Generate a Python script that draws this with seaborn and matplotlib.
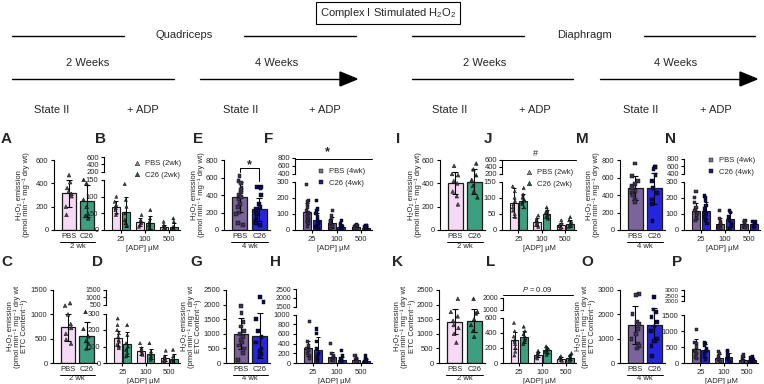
import numpy as np
import pandas as pd
import matplotlib
matplotlib.use("Agg")
import matplotlib.pyplot as plt
import seaborn as sns
from matplotlib.lines import Line2D
from matplotlib.patches import Polygon

sns.set_theme(style="ticks")
plt.rcParams['font.family'] = ['Liberation Sans', 'DejaVu Sans']
plt.rcParams['mathtext.fontset'] = 'custom'
plt.rcParams['mathtext.rm'] = 'Liberation Sans'
plt.rcParams['mathtext.it'] = 'Liberation Sans:italic'
plt.rcParams['mathtext.bf'] = 'Liberation Sans:bold'
np.random.seed(3)

W, H = 764, 384
GROUPS = ["PBS", "C26"]
ADP = ["25", "100", "500"]

# ---------------- data ----------------
A_means = [315, 250]; A_sd = [115, 140]
A_pbs = [470, 410, 360, 330, 310, 290, 200, 130]
A_c26 = [430, 400, 260, 200, 140, 120, 100]

B_pbs_mean = [70, 25, 10]; B_pbs_sd = [18, 12, 6]
B_c26_mean = [55, 22, 10]; B_c26_sd = [45, 20, 12]
B_pbs_pts = [[100, 85, 75, 70, 65, 60, 50, 45], [45, 30, 25, 20, 15, 10], [25, 15, 10, 8, 5, 3]]
B_c26_pts = [[138, 90, 70, 50, 30, 20, 15], [60, 35, 25, 15, 10, 5], [35, 25, 10, 5, 3, 2]]

C_means = [730, 560]; C_sd = [270, 280]
C_pbs = [1230, 1180, 1000, 800, 720, 600, 480, 400]
C_c26 = [1050, 700, 550, 450, 400, 300]

D_pbs_mean = [150, 75, 30]; D_pbs_sd = [45, 25, 20]
D_c26_mean = [115, 55, 22]; D_c26_sd = [75, 30, 30]
D_pbs_pts = [[270, 230, 200, 180, 160, 140, 130, 110, 100, 90], [120, 90, 80, 70, 60, 50], [75, 40, 30, 20, 15, 10]]
D_c26_pts = [[230, 170, 120, 100, 80, 60, 40], [120, 70, 55, 40, 30, 20], [80, 40, 20, 10, 5]]

E_means = [375, 235]; E_sd = [170, 130]
E_pbs = [620, 560, 540, 480, 460, 430, 400, 380, 350, 300, 260, 200, 180, 80, 60]
E_c26 = [490, 490, 480, 400, 300, 260, 240, 200, 180, 150, 100, 80, 60]

F_pbs_mean = [110, 45, 20]; F_pbs_sd = [55, 35, 10]
F_c26_mean = [60, 20, 15]; F_c26_sd = [45, 15, 8]
F_pbs_pts = [[280, 180, 175, 160, 140, 120, 110, 100, 90, 80, 70, 60, 50, 40, 20],
             [120, 90, 70, 60, 50, 40, 30, 20, 10], [35, 30, 25, 20, 15, 10, 5]]
F_c26_pts = [[180, 130, 120, 100, 80, 60, 50, 40, 30, 20, 15, 10],
             [60, 40, 30, 20, 15, 10, 5], [30, 25, 20, 15, 10, 5]]

G_means = [1000, 940]; G_sd = [530, 780]
G_pbs = [1950, 1700, 1400, 1250, 1100, 1000, 900, 800, 700, 600, 500, 350, 100]
G_c26 = [2250, 2100, 1500, 1100, 900, 700, 500, 400, 300, 250]

H_pbs_mean = [300, 130, 60]; H_pbs_sd = [150, 90, 40]
H_c26_mean = [270, 70, 50]; H_c26_sd = [260, 60, 40]
H_pbs_pts = [[850, 450, 350, 300, 250, 200, 150, 100], [400, 200, 150, 120, 100, 80, 50], [150, 100, 70, 50, 30, 20]]
H_c26_pts = [[700, 600, 450, 300, 200, 150, 100, 50], [250, 150, 100, 60, 40, 20], [150, 100, 60, 40, 20]]

I_means = [400, 415]; I_sd = [95, 105]
I_pbs = [550, 480, 470, 420, 400, 330, 290, 220]
I_c26 = [570, 520, 470, 430, 380, 330, 280]

J_pbs_mean = [85, 25, 15]; J_pbs_sd = [45, 12, 8]
J_c26_mean = [90, 50, 20]; J_c26_sd = [22, 12, 10]
J_pbs_pts = [[135, 120, 100, 90, 80, 70, 60, 50, 40], [45, 35, 30, 25, 20, 15, 10], [30, 20, 15, 12, 8, 5]]
J_c26_pts = [[130, 110, 100, 95, 90, 85, 80, 70], [70, 60, 55, 50, 45, 40, 35], [40, 30, 25, 20, 15, 10]]

K_means = [1420, 1450]; K_sd = [420, 400]
K_pbs = [2200, 1750, 1600, 1450, 1300, 1200, 1000, 700]
K_c26 = [2200, 1750, 1700, 1500, 1300, 1100, 900]

L_pbs_mean = [300, 110, 55]; L_pbs_sd = [110, 30, 25]
L_c26_mean = [340, 165, 70]; L_c26_sd = [80, 35, 35]
L_pbs_pts = [[530, 420, 350, 300, 280, 250, 200, 150, 100], [160, 140, 120, 110, 100, 80, 60], [90, 70, 60, 50, 40, 30]]
L_c26_pts = [[480, 420, 380, 350, 330, 300, 280, 250], [220, 200, 180, 170, 150, 130, 110], [130, 100, 80, 60, 50, 30]]

M_means = [480, 475]; M_sd = [140, 180]
M_pbs = [760, 620, 560, 530, 500, 480, 450, 420, 400, 350, 320]
M_c26 = [720, 720, 700, 630, 560, 480, 420, 350, 300, 100]

N_pbs_mean = [120, 40, 35]; N_pbs_sd = [50, 35, 20]
N_c26_mean = [120, 65, 35]; N_c26_sd = [55, 45, 15]
N_pbs_pts = [[240, 200, 170, 140, 120, 110, 100, 90, 70, 60], [120, 70, 50, 40, 30, 20, 10, 5], [60, 50, 40, 30, 20, 15]]
N_c26_pts = [[210, 200, 180, 150, 130, 110, 100, 80, 60, 40], [120, 110, 80, 60, 40, 20, 10], [55, 50, 40, 30, 25, 15]]

O_means = [1550, 1560]; O_sd = [780, 700]
O_pbs = [2850, 2800, 2000, 1700, 1600, 1400, 1200, 1000, 800, 700, 600]
O_c26 = [2700, 2200, 2100, 1900, 1700, 1500, 1300, 1000, 900, 700, 300]

P_pbs_mean = [450, 170, 100]; P_pbs_sd = [300, 120, 80]
P_c26_mean = [400, 180, 100]; P_c26_sd = [200, 130, 60]
P_pbs_pts = [[1050, 650, 600, 500, 400, 350, 300, 200, 150], [350, 300, 200, 150, 100, 50], [250, 200, 100, 80, 50, 30]]
P_c26_pts = [[650, 600, 550, 450, 400, 350, 300, 200, 100], [400, 350, 250, 150, 100, 50], [200, 170, 120, 80, 50, 30]]

# ---------------- style ----------------
COL2 = {"PBS": "#F5D9F5", "C26": "#3E9E80"}
COL4 = {"PBS": "#7B6499", "C26": "#2626E0"}
PT2 = {"PBS": "#4a4a4a", "C26": "#1f3b33"}
PT4 = {"PBS": "#3e3552", "C26": "#0c0c55"}
LEG2 = {"PBS": "#8a8a8a", "C26": "#2f5a4c"}
LEG4 = {"PBS": "#77728a", "C26": "#1c1c88"}
EDGE = "#1a1a1a"
FS = 5.5

YL1 = "H\u2082O\u2082 emission\n(pmol min\u207b\u00b9 mg\u207b\u00b9 dry wt)"
YL2 = "H\u2082O\u2082 emission\n(pmol min\u207b\u00b9 mg\u207b\u00b9 dry wt\nETC Content\u207b\u00b9)"

fig = plt.figure(figsize=(W / 100, H / 100), dpi=100)


def fx(x):
    return x / W


def fy(y):
    return 1 - y / H


def px_axes(x0, x1, ytop, ybot):
    ax = fig.add_axes([fx(x0), fy(ybot), (x1 - x0) / W, (ybot - ytop) / H])
    ax.set_facecolor("none")
    for s in ["top", "right"]:
        ax.spines[s].set_visible(False)
    for s in ["left", "bottom"]:
        ax.spines[s].set_linewidth(0.8)
        ax.spines[s].set_color("black")
    ax.tick_params(labelsize=FS, length=2.5, width=0.8, pad=1.5, color="black")
    return ax


def bar_panel(x0, x1, ytop, ybot, pbs_pts, c26_pts, means, sds, cols, ptcols,
              marker, yticks, wk, ylabel, lab_off):
    ax = px_axes(x0, x1, ytop, ybot)
    mdf = pd.DataFrame({"grp": GROUPS, "val": means})
    sns.barplot(data=mdf, x="grp", y="val", hue="grp", order=GROUPS, hue_order=GROUPS,
                palette=cols, saturation=1, width=0.78, edgecolor=EDGE, linewidth=0.9,
                errorbar=None, legend=False, ax=ax, zorder=1)
    for p in list(ax.patches):
        cx = p.get_x() + p.get_width() / 2
        i = int(round(cx))
        ax.errorbar(cx, means[i], yerr=sds[i], fmt="none", ecolor="black",
                    elinewidth=0.8, capsize=2.2, capthick=0.8, zorder=3)
    pdf = pd.DataFrame({"grp": ["PBS"] * len(pbs_pts) + ["C26"] * len(c26_pts),
                        "val": pbs_pts + c26_pts})
    sns.stripplot(data=pdf, x="grp", y="val", hue="grp", order=GROUPS, hue_order=GROUPS,
                  palette=ptcols, marker=marker, size=2.7, jitter=0.2, linewidth=0.3,
                  edgecolor="black", legend=False, ax=ax, zorder=4)
    ax.set_xlim(-0.8, 1.55)
    ax.set_ylim(yticks[0], yticks[-1])
    ax.set_yticks(yticks)
    ax.set_xlabel("")
    ax.set_ylabel(ylabel, fontsize=FS, linespacing=0.95)
    ax.yaxis.set_label_coords(-lab_off / (x1 - x0), 0.5)
    ax.tick_params(axis="x", length=0, pad=2)
    hpx = ybot - ytop
    tr = ax.get_xaxis_transform()
    ax.plot([-0.45, 1.45], [-11.5 / hpx] * 2, color="black", lw=0.7, transform=tr, clip_on=False)
    ax.text(0.5, -16 / hpx, wk, transform=tr, ha="center", va="center", fontsize=FS)
    return ax


def adp_panel(x0, x1, hi_box, lo_box, pbs_pts, c26_pts, pbs_mean, pbs_sd, c26_mean, c26_sd,
              cols, ptcols, marker, hi_ticks, lo_ticks, hi_fs=FS):
    axh = px_axes(x0, x1, hi_box[0], hi_box[1])
    axl = px_axes(x0, x1, lo_box[0], lo_box[1])
    rows = []
    for g, mm in zip(GROUPS, [pbs_mean, c26_mean]):
        for a, m in zip(ADP, mm):
            rows.append((a, g, m))
    mdf = pd.DataFrame(rows, columns=["adp", "grp", "val"])
    sns.barplot(data=mdf, x="adp", y="val", hue="grp", order=ADP, hue_order=GROUPS,
                palette=cols, saturation=1, width=0.8, gap=0.18, edgecolor=EDGE,
                linewidth=0.8, errorbar=None, legend=False, ax=axl, zorder=1)
    means = [pbs_mean, c26_mean]
    sds = [pbs_sd, c26_sd]
    for p in list(axl.patches):
        cx = p.get_x() + p.get_width() / 2
        i = int(round(cx))
        g = 0 if cx < i else 1
        axl.errorbar(cx, means[g][i], yerr=sds[g][i], fmt="none", ecolor="black",
                     elinewidth=0.7, capsize=1.4, capthick=0.7, zorder=3)
    prow = []
    for g, pts in zip(GROUPS, [pbs_pts, c26_pts]):
        for a, vals in zip(ADP, pts):
            for v in vals:
                prow.append((a, g, v))
    pdf = pd.DataFrame(prow, columns=["adp", "grp", "val"])
    sns.stripplot(data=pdf, x="adp", y="val", hue="grp", order=ADP, hue_order=GROUPS,
                  palette=ptcols, marker=marker, size=2.3, jitter=0.12, dodge=True,
                  linewidth=0.3, edgecolor="black", legend=False, ax=axl, zorder=4)
    axl.set_xlim(-0.7, 2.45)
    axl.set_ylim(lo_ticks[0], lo_ticks[-1])
    axl.set_yticks(lo_ticks)
    axl.set_ylabel("")
    axl.set_xlabel("[ADP] \u00b5M", fontsize=FS, labelpad=1.5)
    axh.set_xlim(-0.7, 2.45)
    axh.set_ylim(hi_ticks[0], hi_ticks[-1])
    axh.set_yticks(hi_ticks)
    axh.tick_params(axis="y", labelsize=hi_fs, pad=1.0)
    axh.set_xticks([])
    axh.spines["bottom"].set_visible(False)
    return axh, axl


def legend_at(x, y, cols, marker, wk):
    handles = [Line2D([], [], ls="none", marker=marker, ms=3.3, mfc=cols[g], mec="black", mew=0.3)
               for g in GROUPS]
    labels = [f"{g} ({wk})" for g in GROUPS]
    fig.legend(handles, labels, loc="upper left", bbox_to_anchor=(fx(x), fy(y)),
               bbox_transform=fig.transFigure, frameon=False, fontsize=FS,
               handlelength=0.8, handletextpad=0.6, labelspacing=0.55,
               borderpad=0, borderaxespad=0)


# ---------------- row 1 ----------------
R1T, R1B = 160, 230
R1H = (157.5, 171.5)
R1L = (180, 230)
bar_panel(54, 97, R1T, R1B, A_pbs, A_c26, A_means, A_sd, COL2, PT2, "^", [0, 200, 400, 600], "2 wk", YL1, 24)
adp_panel(104, 180, R1H, R1L, B_pbs_pts, B_c26_pts, B_pbs_mean, B_pbs_sd, B_c26_mean, B_c26_sd,
          COL2, PT2, "^", [200, 400, 600], [0, 50, 100, 150])
axE = bar_panel(224, 270, R1T, R1B, E_pbs, E_c26, E_means, E_sd, COL4, PT4, "s", [0, 200, 400, 600, 800], "4 wk", YL1, 19)
axE.plot([0, 0, 1, 1], [665, 710, 710, 555], color="black", lw=0.7, clip_on=False)
axE.text(0.5, 745, "*", ha="center", va="center", fontsize=9, fontweight="bold")
adp_panel(295, 372, (157.5, 174), (181.5, 230), F_pbs_pts, F_c26_pts, F_pbs_mean, F_pbs_sd, F_c26_mean, F_c26_sd,
          COL4, PT4, "s", [400, 600, 800], [0, 100, 200, 300])
bar_panel(440, 485, R1T, R1B, I_pbs, I_c26, I_means, I_sd, COL2, PT2, "^", [0, 200, 400, 600], "2 wk", YL1, 18)
adp_panel(502, 576, (159.5, 173.5), (181.5, 230), J_pbs_pts, J_c26_pts, J_pbs_mean, J_pbs_sd, J_c26_mean, J_c26_sd,
          COL2, PT2, "^", [200, 400, 600], [0, 50, 100, 150])
bar_panel(620, 665, R1T, R1B, M_pbs, M_c26, M_means, M_sd, COL4, PT4, "s", [0, 200, 400, 600, 800], "4 wk", YL1, 20)
adp_panel(684, 760, (158.5, 173.5), (181.5, 230), N_pbs_pts, N_c26_pts, N_pbs_mean, N_pbs_sd, N_c26_mean, N_c26_sd,
          COL4, PT4, "s", [400, 600, 800], [0, 100, 200, 300])

# ---------------- row 2 ----------------
R2T, R2B = 290, 363
bar_panel(53, 97, R2T, R2B, C_pbs, C_c26, C_means, C_sd, COL2, PT2, "^", [0, 500, 1000, 1500], "2 wk", YL2, 25)
adp_panel(106, 180, (290, 304.5), (313.5, 363), D_pbs_pts, D_c26_pts, D_pbs_mean, D_pbs_sd, D_c26_mean, D_c26_sd,
          COL2, PT2, "^", [500, 1000, 1500], [0, 100, 200, 300], hi_fs=5)
bar_panel(226, 270, R2T, R2B, G_pbs, G_c26, G_means, G_sd, COL4, PT4, "s", [0, 500, 1000, 1500, 2000, 2500], "4 wk", YL2, 23.5)
adp_panel(296, 372, (289, 306.5), (314.5, 363), H_pbs_pts, H_c26_pts, H_pbs_mean, H_pbs_sd, H_c26_mean, H_c26_sd,
          COL4, PT4, "s", [1500, 2000, 2500], [0, 200, 400, 600, 800, 1000], hi_fs=5)
bar_panel(439, 485, R2T, R2B, K_pbs, K_c26, K_means, K_sd, COL2, PT2, "^", [0, 500, 1000, 1500, 2000, 2500], "2 wk", YL2, 23.5)
adp_panel(503, 576, (297.5, 310), (317.5, 363), L_pbs_pts, L_c26_pts, L_pbs_mean, L_pbs_sd, L_c26_mean, L_c26_sd,
          COL2, PT2, "^", [1000, 2000], [0, 200, 400, 600], hi_fs=5)
bar_panel(620, 665, R2T, R2B, O_pbs, O_c26, O_means, O_sd, COL4, PT4, "s", [0, 1000, 2000, 3000], "4 wk", YL2, 23.5)
adp_panel(684, 758, (290, 301), (315, 363), P_pbs_pts, P_c26_pts, P_pbs_mean, P_pbs_sd, P_c26_mean, P_c26_sd,
          COL4, PT4, "s", [2000, 2500, 3000], [0, 500, 1000, 1500], hi_fs=4.5)

# legends
legend_at(134, 160, LEG2, "^", "2wk")
legend_at(318, 168, LEG4, "s", "4wk")
legend_at(526, 169, LEG2, "^", "2wk")
legend_at(708, 157, LEG4, "s", "4wk")


# significance annotations (figure pixel positions)
def hline(x0, x1, y, lw=0.7):
    fig.add_artist(Line2D([fx(x0), fx(x1)], [fy(y), fy(y)], color="black", lw=lw,
                          transform=fig.transFigure))


hline(295, 372, 158.5)
fig.text(fx(327), fy(152.5), "*", ha="center", va="center", fontsize=9, fontweight="bold")
hline(502, 576, 160)
fig.text(fx(535), fy(153), "#", ha="center", va="center", fontsize=6.5)
hline(503, 573, 295)
fig.text(fx(537), fy(289), "$P$ = 0.09", ha="center", va="center", fontsize=FS)

# ---------------- header ----------------
HF = 8
fig.text(fx(388), fy(13), "Complex I Stimulated H$_2$O$_2$", ha="center", va="center", fontsize=HF,
         bbox=dict(boxstyle="square,pad=0.35", fc="white", ec="black", lw=0.8))
for cx, name, l0, l1, r0, r1 in [(184, "Quadriceps", 12, 124, 244, 356),
                                 (584, "Diaphragm", 412, 524, 644, 755)]:
    fig.text(fx(cx), fy(35), name, ha="center", va="center", fontsize=HF)
    hline(l0, l1, 36, lw=1.0)
    hline(r0, r1, 36, lw=1.0)
for cx, x0, x1 in [(88, 12, 174), (485, 412, 573)]:
    fig.text(fx(cx), fy(63), "2 Weeks", ha="center", va="center", fontsize=HF)
    hline(x0, x1, 79, lw=1.0)
for cx, x0, x1 in [(277, 200, 357), (676, 600, 757)]:
    fig.text(fx(cx), fy(63), "4 Weeks", ha="center", va="center", fontsize=HF)
    hline(x0, x1 - 15, 79, lw=1.0)
    fig.add_artist(Polygon([[fx(x1 - 17), fy(72)], [fx(x1), fy(79)], [fx(x1 - 17), fy(86)]],
                           closed=True, fc="black", ec="black", transform=fig.transFigure))
for cx, s in [(52, "State II"), (143, "+ ADP"), (241, "State II"), (325, "+ ADP"),
              (450, "State II"), (535, "+ ADP"), (641, "State II"), (716, "+ ADP")]:
    fig.text(fx(cx), fy(110), s, ha="center", va="center", fontsize=HF)

# panel letters
for x, y, s in [(1, 139, "A"), (95, 139, "B"), (193, 139, "E"), (264, 139, "F"),
                (396, 139, "I"), (484, 139, "J"), (576, 139, "M"), (665, 139, "N"),
                (1, 262, "C"), (92, 262, "D"), (190, 262, "G"), (270, 262, "H"),
                (392, 262, "K"), (486, 262, "L"), (581, 262, "O"), (672, 262, "P")]:
    fig.text(fx(x), fy(y), s, ha="left", va="center", fontsize=11, fontweight="bold")

fig.savefig("out.png", dpi=100)
